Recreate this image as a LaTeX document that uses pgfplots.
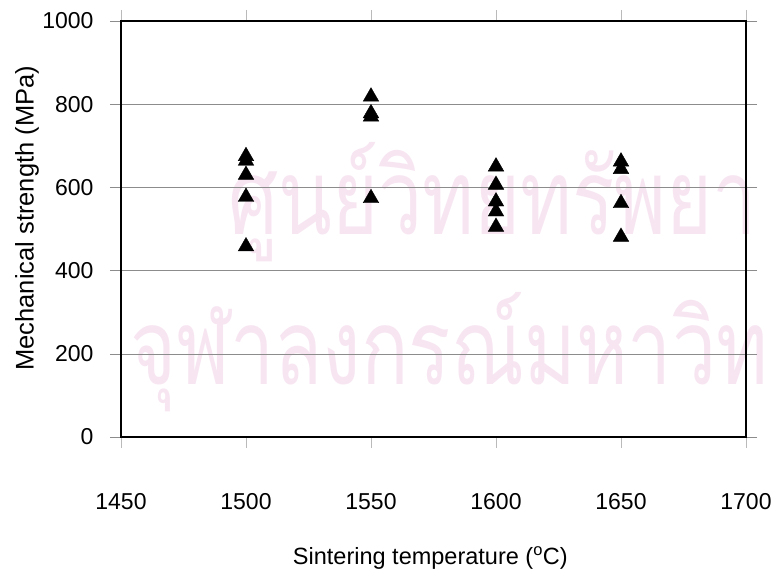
\documentclass[border=0pt]{standalone}
\usepackage{fontspec}
\setmainfont{Liberation Sans}
\newfontfamily\thaifont[Script=Thai]{Loma}
\usepackage{pgfplots}
\pgfplotsset{compat=1.18}
\definecolor{wm}{RGB}{247,230,242}
\definecolor{gridc}{RGB}{140,140,140}
\begin{document}
\begin{tikzpicture}
\useasboundingbox (-121bp,-138bp) rectangle (655bp,437bp);
\node[anchor=base west, text=wm, inner sep=0, xscale=0.75, font=\thaifont\fontsize{105bp}{115bp}\selectfont] at (107bp,202bp) {ศูนย์วิทยทรัพยา};
\node[anchor=base west, text=wm, inner sep=0, xscale=0.75, font=\thaifont\fontsize{105bp}{115bp}\selectfont] at (9bp,52bp) {จุฬาลงกรณ์มหาวิท};
\begin{axis}[
  scale only axis, width=625bp, height=416bp,
  xmin=1450, xmax=1700, ymin=0, ymax=1000,
  xtick={1450,1500,1550,1600,1650,1700},
  ytick={0,200,400,600,800,1000},
  ymajorgrids,
  grid style={gridc, line width=0.6pt},
  axis line style={black, line width=1.6pt},
  tick align=outside, major tick length=11bp,
  ytick style={gridc, line width=0.6pt},
  xtick style={gridc!60, line width=0.5pt},
  /pgf/number format/assume math mode=true,
  /pgf/number format/1000 sep={},
  tick label style={font=\fontsize{23bp}{27bp}\selectfont},
  xticklabel style={yshift=-42bp},
  yticklabel style={xshift=-13bp},
  xlabel={Sintering temperature (\textsuperscript{o}C)},
  ylabel={Mechanical strength (MPa)},
  xlabel style={at={(axis description cs:0.495,-0.291)}, anchor=center, font=\fontsize{23.5bp}{28bp}\selectfont},
  ylabel style={at={(axis description cs:-0.1504,0.526)}, anchor=center, font=\fontsize{25.5bp}{30bp}\selectfont},
  clip=false,
]
\addplot[only marks, mark=triangle*, mark size=9bp, black] coordinates {
  (1500,675) (1500,664) (1500,630) (1500,577) (1500,458)
  (1550,818) (1550,778) (1550,770) (1550,574)
  (1600,650) (1600,606) (1600,566) (1600,542) (1600,505)
  (1650,662) (1650,644) (1650,562) (1650,481)
};
\end{axis}
\end{tikzpicture}
\end{document}
